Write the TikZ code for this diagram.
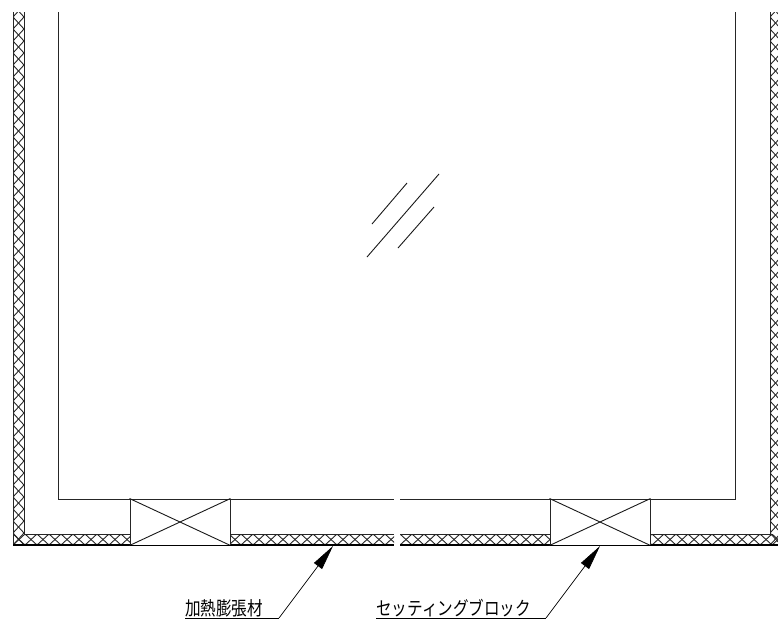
\documentclass[tikz,border=0pt]{standalone}
\usepackage{fontspec}
\usetikzlibrary{arrows.meta}
\setmainfont[FakeStretch=0.82]{Noto Sans CJK JP}
\newcommand{\hatchH}[2]{
	\begin{scope}
		\clip (#1,534) rectangle (#2,545);
		\foreach \k in {0,...,33} {
			\draw[hatchline] (#1+12*\k,545) -- ++(12,-11);
			\draw[hatchline] (#1+12*\k,534) -- ++(12,11);
		}
	\end{scope}
}
\newcommand{\hatchV}[1]{
	\begin{scope}
		\clip (#1,12) rectangle (#1+11,545);
		\foreach \k in {0,...,45} {
			\draw[hatchline] (#1,545-12*\k) -- ++(11,-12);
			\draw[hatchline] (#1+11,545-12*\k) -- ++(-11,-12);
		}
	\end{scope}
}
\tikzset{
	hatchline/.style={line width=.9pt, black!85},
	wall/.style={line width=1pt, black!85},
	base/.style={line width=1.3pt},
	thin line/.style={line width=.9pt, black!90},
	blockbox/.style={draw, line width=1pt, black!85, fill=white, minimum width=100pt, minimum height=46pt, inner sep=0pt},
	lead/.style={inner sep=0pt, anchor=south west, font=\fontsize{19}{19}\selectfont},
	tip/.style={-{Stealth[inset=0pt,length=25pt,width=10pt]}, line width=.7pt}
}
\begin{document}
\begin{tikzpicture}[x=1pt,y=-1pt]
	\useasboundingbox (0,0) rectangle (778,619);
	\clip (0,0) rectangle (778,619);
	% hatching
	\hatchV{13}
	\hatchV{770}
	\hatchH{13}{394}
	\hatchH{400}{778}
	% wall
	\draw[wall] (24,12) -- (24,534) -- (394,534);
	\draw[wall] (400,534) -- (770,534) -- (770,12);
	\draw[wall] (13,12) -- (13,545);
	\draw[base] (13,545) -- (394,545);
	\draw[base] (400,545) -- (778,545);
	% glass
	\draw[wall] (58,12) -- (58,499) -- (394,499);
	\draw[wall] (400,499) -- (735,499) -- (735,12);
	\draw[thin line] (372,224) -- (407,183);
	\draw[thin line] (367,257) -- (439,174);
	\draw[thin line] (398,248) -- (434,207);
	% blocks
	\node[blockbox] (blockA) at (180,522) {};
	\node[blockbox] (blockB) at (600,522) {};
	\draw[thin line] (blockA.north west) -- (blockA.south east);
	\draw[thin line] (blockA.south west) -- (blockA.north east);
	\draw[thin line] (blockB.north west) -- (blockB.south east);
	\draw[thin line] (blockB.south west) -- (blockB.north east);
	\draw[base] (blockA.south west) -- (blockA.south east);
	\draw[base] (blockB.south west) -- (blockB.south east);
	% labels
	\node[lead] (heat) at (185,617) {加熱膨張材};
	\node[lead] (setting) at (376,617) {セッティングブロック};
	\coordinate (heatkink) at (279,618);
	\coordinate (setkink) at (546,618);
	\coordinate (heattip) at (333,546);
	\coordinate (settip) at (600,546);
	\coordinate (heatstart) at (185,618);
	\coordinate (setstart) at (376,618);
	\draw[line width=.7pt] (heatstart) -- (heatkink);
	\draw[line width=.7pt] (setstart) -- (setkink);
	\draw[tip] (heatkink) -- (heattip);
	\draw[tip] (setkink) -- (settip);
\end{tikzpicture}
\end{document}
